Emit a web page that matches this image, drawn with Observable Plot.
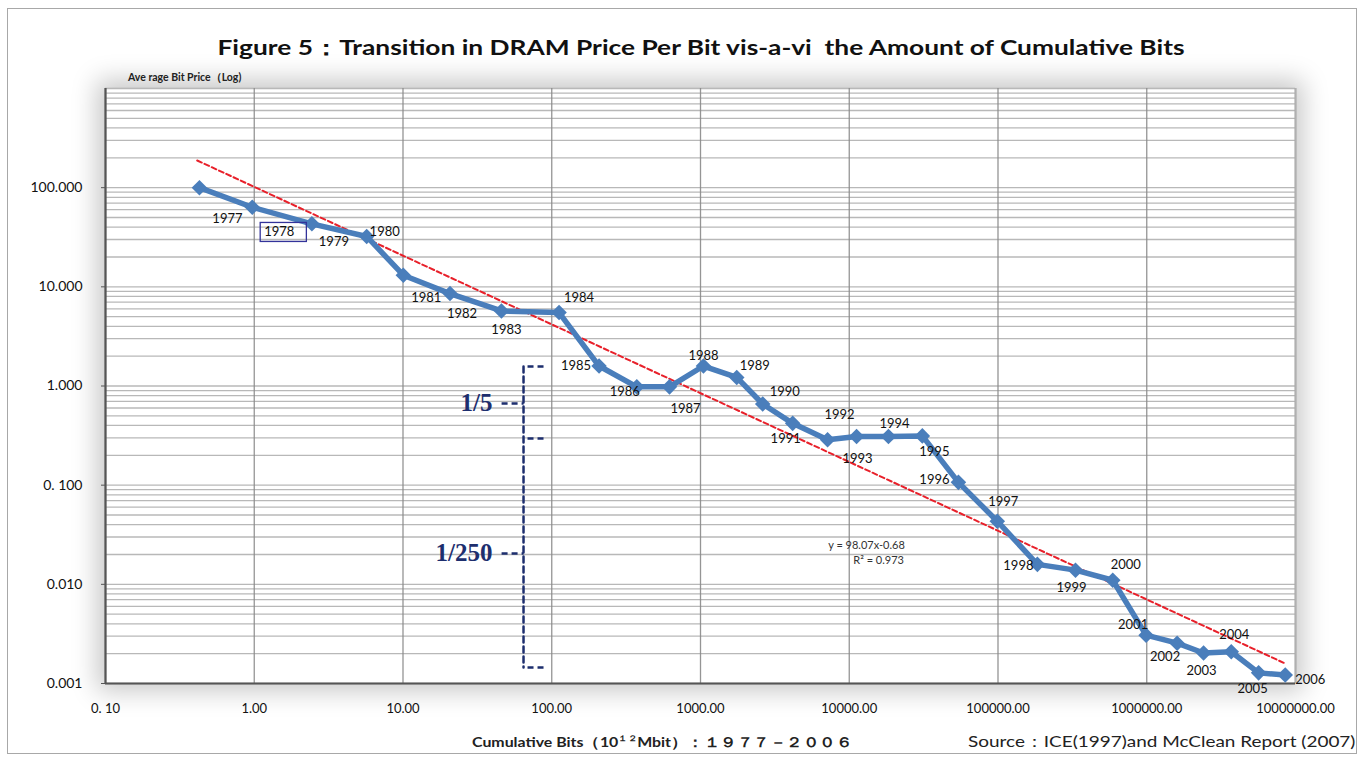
<!DOCTYPE html>
<html><head><meta charset="utf-8">
<script src="https://cdn.jsdelivr.net/npm/d3@7"></script>
<script src="https://cdn.jsdelivr.net/npm/@observablehq/plot@0.6"></script>
<style>
body{margin:0;background:#fff;width:1363px;height:758px;overflow:hidden;position:relative;font-family:Lato,"Open Sans",sans-serif;color:#111;}
#frame{position:absolute;left:7px;top:8px;width:1350px;height:746px;border:1.5px solid #a8a8a8;box-sizing:border-box;}
#title{position:absolute;top:34px;left:701px;white-space:nowrap;font-weight:bold;font-size:21px;transform-origin:0 0;}
#ylab{position:absolute;top:71px;left:128px;font-size:10.5px;font-weight:bold;color:#222;white-space:nowrap;}
#shadow{position:absolute;left:105px;top:88px;width:1190px;height:595px;background:#fff;box-shadow:0 0 24px 8px rgba(0,0,0,0.22);}
#chart{position:absolute;left:0;top:60px;}
#xlab{position:absolute;top:733px;left:472px;font-size:13.5px;font-weight:bold;color:#222;white-space:nowrap;transform-origin:0 0;}
#source{position:absolute;top:731px;left:968px;font-size:16px;color:#222;white-space:nowrap;transform-origin:0 0;}
</style></head>
<body>
<div id="frame"></div>
<div id="shadow"></div>
<div id="title">Figure 5：Transition in DRAM Price Per Bit vis-a-vi&nbsp; the Amount of Cumulative Bits</div>
<div id="ylab">Ave rage Bit Price（Log)</div>
<div id="chart"></div>
<div id="xlab">Cumulative Bits（10<sup style="font-size:8px">１２</sup>Mbit）：１９７７－２００６</div>
<div id="source">Source：ICE(1997)and McClean Report (2007)</div>
<script>
// ---- data ----
const years = [1977,1978,1979,1980,1981,1982,1983,1984,1985,1986,1987,1988,1989,1990,1991,1992,1993,1994,1995,1996,1997,1998,1999,2000,2001,2002,2003,2004,2005,2006];
const cumulativeBits = [0.428,0.97,2.44,5.7,10.05,20.7,45.9,112,208,373,619,1047,1753,2620,4165,7150,11200,18350,31000,54200,98900,184000,332000,591000,990000,1600000,2410000,3700000,5650000,8530000];
const bitPrice = [100,63.4,43.2,32.2,13.1,8.55,5.71,5.5,1.59,0.98,0.98,1.59,1.22,0.659,0.42,0.287,0.31,0.31,0.314,0.1067,0.0433,0.0159,0.0139,0.011,0.00307,0.00255,0.00203,0.00209,0.00128,0.00122];
const trendX = [0.4135, 8530000];
const trendY = [188, 0.00159];
const equationText = ["y = 98.07x-0.68", "R² = 0.973"];
const equationX = [13060, 15750];
const equationY = [0.0247, 0.0174];
const yTicks = [0.001,0.01,0.1,1,10,100];
const yTickLabels = ["0.001","0.010","0. 100","1.000","10.000","100.000"];
const xTicks = [0.1,1,10,100,1000,10000,100000,1000000,10000000];
const xTickLabels = ["0. 10","1.00","10.00","100.00","1000.00","10000.00","100000.00","1000000.00","10000000.00"];
const yMinorGrid = [0.001,0.002,0.003,0.004,0.005,0.006,0.007,0.008,0.009,0.01,0.02,0.03,0.04,0.05,0.06,0.07,0.08,0.09,0.1,0.2,0.3,0.4,0.5,0.6,0.7,0.8,0.9,1,2,3,4,5,6,7,8,9,10,20,30,40,50,60,70,80,90,100,200,300,400,500,600,700,800,900,1000];
const braceX = 64.6;
const braceLevels = [1.57, 0.296, 0.00145];
const braceTips = [0.667, 0.0205];
const braceTexts = ["1/5", "1/250"];

// ---- label placement (layout only) ----
const labelOffset = {1977:[28,31],1978:[27,25],1979:[22,18],1980:[18,-5],1981:[23,23],1982:[12,20],1983:[5,19],1984:[20,-15],1985:[-23,0],1986:[-12,5],1987:[16,22],1988:[0,-10],1989:[18,-12],1990:[22,-12],1991:[-7,15],1992:[12,-25],1993:[1,22],1994:[6,-13],1995:[12,16],1996:[-24,-3],1997:[6,-19],1998:[-19,1],1999:[-4,18],2000:[13,-15],2001:[-13,-10],2002:[-12,14],2003:[-2,18],2004:[3,-17],2005:[-6,16],2006:[25,5]};

const data = years.map((yr,i)=>({year:yr, x:cumulativeBits[i], y:bitPrice[i]}));
const trend = trendX.map((x,i)=>({x, y:trendY[i]}));
const eq = equationText.map((t,i)=>({t, x:equationX[i], y:equationY[i]}));
const navy = "#1d2e6e";
const blue = "#4a7ebb";

const labelMarks = data.map(d => Plot.text([d], {x:"x", y:"y", text: d => String(d.year), dx: labelOffset[d.year][0], dy: labelOffset[d.year][1], fontSize:13, fill:"#111"}));

const chart = Plot.plot({
  width:1363, height:670,
  marginLeft:105, marginRight:68, marginTop:28, marginBottom:47,
  x:{type:"log", domain:[0.1,1e7]},
  y:{type:"log", domain:[0.001,1000]},
  style:{background:"transparent", fontFamily:"Lato, 'Open Sans', sans-serif", fontSize:"13px", color:"#111", overflow:"visible"},
  marks:[
    Plot.gridY(yMinorGrid, {stroke:"#9a9a9a", strokeOpacity:0.7, strokeWidth:1.3}),
    Plot.gridX(xTicks, {stroke:"#8a8a8a", strokeOpacity:0.9, strokeWidth:1.3}),
    Plot.ruleX([1e7], {stroke:"#b0b0b0", strokeWidth:2}),
    Plot.axisY(yTicks, {tickFormat: d => yTickLabels[yTicks.indexOf(d)], tickSize:4, tickPadding:19, fontSize:14, stroke:"#555", label:null}),
    Plot.axisX(xTicks, {tickFormat: d => xTickLabels[xTicks.indexOf(d)], tickSize:0, tickPadding:20, fontSize:13, label:null}),
    Plot.ruleX([0.1], {stroke:"#555", strokeWidth:2.2}),
    Plot.ruleY([0.001], {stroke:"#555", strokeWidth:2.2}),
    // brace annotation
    Plot.line([{x:braceX,y:braceLevels[0]},{x:braceX,y:braceLevels[2]}], {x:"x", y:"y", stroke:navy, strokeWidth:2.5, strokeDasharray:"6,4"}),
    Plot.link(braceLevels, {x1:braceX, x2:84, y1:d=>d, y2:d=>d, stroke:navy, strokeWidth:2.5, strokeDasharray:"6,4", dx:4}),
    Plot.link(braceTips, {x1:46, x2:braceX, y1:d=>d, y2:d=>d, stroke:navy, strokeWidth:2.5, strokeDasharray:"6,4"}),
    Plot.text(braceTips, {x:40, y:d=>d, text:(d,i)=>braceTexts[i], textAnchor:"end", fontSize:25, fontWeight:"bold", fontFamily:"'Liberation Serif', serif", fill:navy}),
    // trend & series
    Plot.line(trend, {x:"x", y:"y", stroke:"#e8202a", strokeWidth:2, strokeDasharray:"5,3"}),
    Plot.line(data, {x:"x", y:"y", stroke:blue, strokeWidth:5.5, strokeLinejoin:"round", strokeLinecap:"round"}),
    Plot.dot(data, {x:"x", y:"y", symbol:"diamond2", r:7, fill:blue}),
    ...labelMarks,
    Plot.text(eq, {x:"x", y:"y", text:"t", fontSize:11, fill:"#333"})
  ]
});
document.getElementById("chart").appendChild(chart);

// box around the 1978 label
const svg = d3.select(chart);
svg.selectAll("text").filter(function(){ return this.textContent === "1978"; }).each(function(){
  const b = this.getBBox();
  const parent = this.parentNode;
  const ns = "http://www.w3.org/2000/svg";
  const r = document.createElementNS(ns, "rect");
  const tr = this.getAttribute("transform");
  if (tr) r.setAttribute("transform", tr);
  r.setAttribute("x", b.x - 4); r.setAttribute("y", b.y - 1);
  r.setAttribute("width", b.width + 16); r.setAttribute("height", b.height + 3);
  r.setAttribute("fill", "none"); r.setAttribute("stroke", "#33339a"); r.setAttribute("stroke-width", "1.3");
  parent.insertBefore(r, this);
});

// fit text widths to reference
function fit(id, target, center){
  const el = document.getElementById(id);
  const w = el.offsetWidth;
  el.style.transform = (center ? `translateX(${-target/2}px) ` : "") + `scaleX(${target/w})`;
}
fit("title", 967, true);
fit("xlab", 380, false);
fit("source", 387, false);
</script>
</body></html>
